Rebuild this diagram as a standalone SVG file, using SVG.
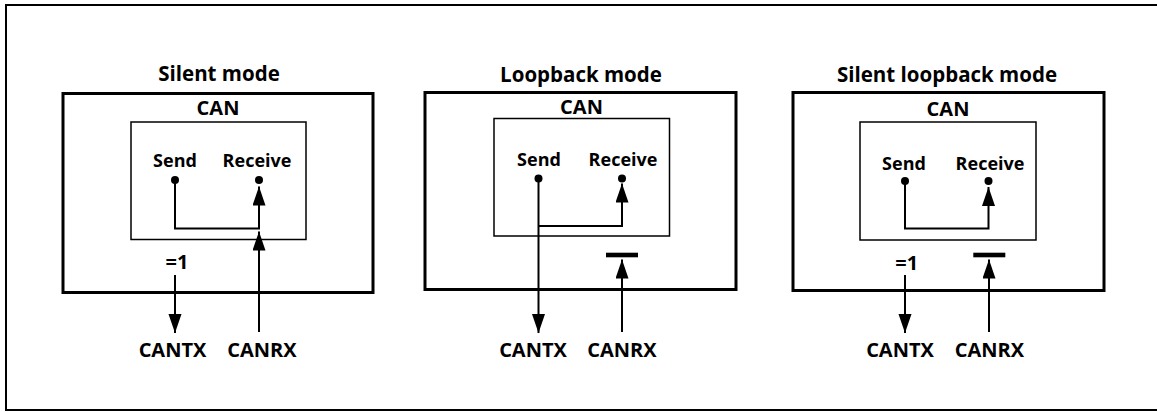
<svg xmlns="http://www.w3.org/2000/svg" width="1157" height="412" viewBox="0 0 1157 412">
<style>
text{font-family:"Open Sans","Noto Sans","Liberation Sans",sans-serif;font-weight:bold;fill:#000;text-anchor:middle}
.title{font-size:20.5px}
.can{font-size:20px}
.port{font-size:18px}
.pin{font-size:20px}
.outer{fill:none;stroke:#000;stroke-width:3}
.inner{fill:none;stroke:#000;stroke-width:1.5}
.frame{fill:none;stroke:#000;stroke-width:2}
.arr{fill:none;stroke:#000;stroke-width:2;marker-end:url(#ah)}
.dot{fill:#000}
.bar{fill:#000}
</style>
<defs>
<marker id="ah" markerUnits="userSpaceOnUse" markerWidth="20" markerHeight="14" refX="19" refY="6.5" orient="auto">
<path d="M0,0 L19,6.5 L0,13 z" fill="#000"/>
</marker>
</defs>
<rect width="1157" height="412" fill="#fff"/>
<rect class="frame" x="6" y="5" width="1160" height="405"/>

<g id="silent">
<text class="title" x="219" y="81">Silent mode</text>
<rect class="outer" x="63" y="93.5" width="310" height="199"/>
<text class="can" x="218" y="115">CAN</text>
<rect class="inner" x="131" y="122" width="175" height="117.5"/>
<text class="port" x="175" y="167">Send</text>
<text class="port" x="257" y="167">Receive</text>
<circle class="dot" cx="175" cy="180" r="4"/>
<circle class="dot" cx="259" cy="180" r="4"/>
<text class="pin" x="177" y="269">=1</text>
<text class="pin" x="172.5" y="357">CANTX</text>
<text class="pin" x="262" y="357">CANRX</text>
</g>

<g id="loopback">
<text class="title" x="581" y="81.5">Loopback mode</text>
<rect class="outer" x="425" y="92.5" width="311" height="197"/>
<text class="can" x="581.5" y="114">CAN</text>
<rect class="inner" x="494" y="118.5" width="175.5" height="117.5"/>
<text class="port" x="539" y="166">Send</text>
<text class="port" x="623" y="166">Receive</text>
<circle class="dot" cx="538.5" cy="178.5" r="4"/>
<circle class="dot" cx="622" cy="178.5" r="4"/>
<rect class="bar" x="606" y="252.7" width="32" height="4.6"/>
<text class="pin" x="533" y="357">CANTX</text>
<text class="pin" x="622" y="357">CANRX</text>
</g>

<g id="silent-loopback">
<text class="title" x="947" y="81.5">Silent loopback mode</text>
<rect class="outer" x="793" y="92.5" width="311" height="198"/>
<text class="can" x="948" y="116">CAN</text>
<rect class="inner" x="860" y="122" width="176" height="118"/>
<text class="port" x="904" y="170">Send</text>
<text class="port" x="990" y="170">Receive</text>
<circle class="dot" cx="905" cy="181" r="4"/>
<circle class="dot" cx="988.5" cy="181" r="4"/>
<rect class="bar" x="973.3" y="252.7" width="32" height="4.6"/>
<text class="pin" x="906.7" y="270">=1</text>
<text class="pin" x="900" y="357">CANTX</text>
<text class="pin" x="989.5" y="357">CANRX</text>
</g>

<g id="connectors">
<polyline class="arr" points="175,180 175,228.5 259,228.5 259,186.5"/>
<line class="arr" x1="259" y1="332" x2="259" y2="231.5"/>
<line class="arr" x1="175" y1="275" x2="175" y2="333"/>

<line class="arr" x1="538.5" y1="178.5" x2="538.5" y2="333"/>
<polyline class="arr" points="538.5,226 622,226 622,183.5"/>
<line class="arr" x1="622" y1="332" x2="622" y2="259.5"/>

<polyline class="arr" points="905,181 905,228.5 988.5,228.5 988.5,187"/>
<line class="arr" x1="905" y1="275" x2="905" y2="333"/>
<line class="arr" x1="989" y1="332" x2="989" y2="259.5"/>
</g>
</svg>
